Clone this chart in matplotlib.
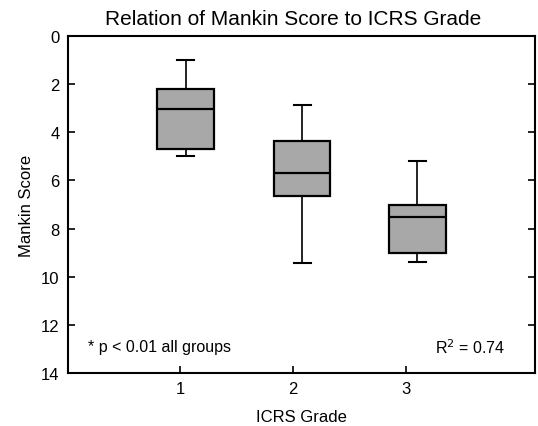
import matplotlib
matplotlib.use('Agg')
import matplotlib.pyplot as plt

plt.rcParams['font.family'] = ['Liberation Sans', 'DejaVu Sans']

# box stats (Mankin score per ICRS grade)
grades = [1, 2, 3]
positions = [1.05, 2.08, 3.1]
whisker_low = [1.0, 2.85, 5.2]
q1 = [2.2, 4.38, 7.0]
median = [3.03, 5.7, 7.5]
q3 = [4.7, 6.65, 9.0]
whisker_high = [5.0, 9.42, 9.4]

stats = []
for i in range(len(grades)):
    stats.append({'whislo': whisker_low[i], 'q1': q1[i], 'med': median[i],
                  'q3': q3[i], 'whishi': whisker_high[i], 'fliers': []})

fig = plt.figure(figsize=(5.38, 4.27), dpi=100)
ax = fig.add_axes([0.1264, 0.1241, 0.868, 0.7892])

ax.bxp(stats, positions=positions, widths=0.5, patch_artist=True,
       showfliers=False,
       boxprops=dict(facecolor='#a8a8a8', edgecolor='black', linewidth=1.6),
       medianprops=dict(color='black', linewidth=1.6),
       whiskerprops=dict(color='black', linewidth=1.2),
       capprops=dict(color='black', linewidth=1.5),
       capwidths=0.15)

ax.set_xlim(0.01, 4.14)
ax.set_ylim(14, 0)
ax.set_yticks([0, 2, 4, 6, 8, 10, 12, 14])
ax.set_xticks(grades)
ax.set_xticklabels([str(g) for g in grades])
ax.tick_params(direction='in', length=5, width=1.2, labelsize=12, pad=6)
ax.tick_params(axis='y', right=True)
for s in ax.spines.values():
    s.set_linewidth(1.5)

ax.set_title('Relation of Mankin Score to ICRS Grade', fontsize=15, x=0.483, pad=9)
ax.set_xlabel('ICRS Grade', fontsize=12, labelpad=9)
ax.set_ylabel('Mankin Score', fontsize=12, labelpad=5)

ax.text(0.19, 12.9, '* p < 0.01 all groups', fontsize=11.5, va='center')
ax.text(3.88, 12.9, 'R$^2$ = 0.74', fontsize=11.5, va='center', ha='right')

fig.savefig('out.png', dpi=100)
